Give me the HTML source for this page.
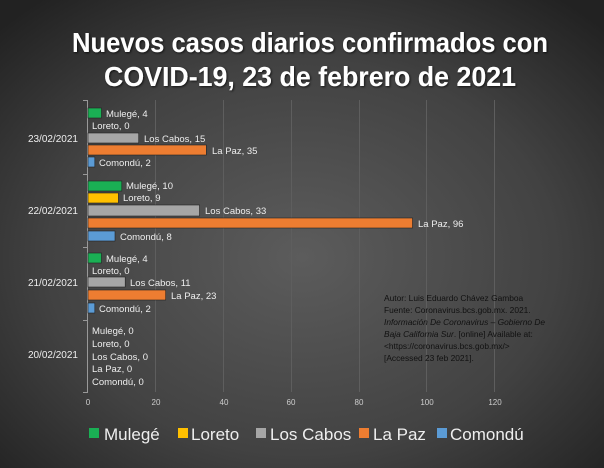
<!DOCTYPE html>
<html><head><meta charset="utf-8"><style>
html,body{margin:0;padding:0;width:604px;height:468px;overflow:hidden;background:#333}
svg{display:block}
text{font-family:"Liberation Sans",sans-serif}
</style></head><body>
<svg width="604" height="468" viewBox="0 0 604 468" xmlns="http://www.w3.org/2000/svg">
<defs>
<radialGradient id="bg" cx="50%" cy="55%" r="70%">
<stop offset="0" stop-color="#5c5c5c"/><stop offset="0.6" stop-color="#424242"/><stop offset="1" stop-color="#222"/>
</radialGradient>
<filter id="sh"><feDropShadow dx="1" dy="1" stdDeviation="1" flood-color="#000" flood-opacity="0.7"/></filter>
</defs>
<rect width="604" height="468" fill="url(#bg)"/>
<g fill="#fff" font-weight="bold" font-size="28" text-anchor="middle" filter="url(#sh)">
<text x="310" y="52" textLength="476" lengthAdjust="spacingAndGlyphs">Nuevos casos diarios confirmados con</text>
<text x="310" y="86" textLength="412" lengthAdjust="spacingAndGlyphs">COVID-19, 23 de febrero de 2021</text>
</g>
<g stroke="#5e5e5e" stroke-width="1">
<line x1="155.5" y1="100" x2="155.5" y2="392"/><line x1="223.5" y1="100" x2="223.5" y2="392"/>
<line x1="291.5" y1="100" x2="291.5" y2="392"/><line x1="359.5" y1="100" x2="359.5" y2="392"/>
<line x1="426.5" y1="100" x2="426.5" y2="392"/><line x1="494.5" y1="100" x2="494.5" y2="392"/>
</g>
<g stroke="#999" stroke-width="1">
<line x1="87.5" y1="100" x2="87.5" y2="392"/>
<line x1="83" y1="100.5" x2="88" y2="100.5"/><line x1="83" y1="174.5" x2="88" y2="174.5"/>
<line x1="83" y1="247.5" x2="88" y2="247.5"/><line x1="83" y1="320.5" x2="88" y2="320.5"/>
<line x1="83" y1="392.5" x2="88" y2="392.5"/>
</g>
<g stroke="#222" stroke-width="0.6">
<rect x="88" y="108" width="13.5" height="10" fill="#1aaf54"/>
<rect x="88" y="133" width="50.7" height="10" fill="#a6a6a6"/>
<rect x="88" y="145" width="118.3" height="10" fill="#ed7d31"/>
<rect x="88" y="157" width="6.8" height="10" fill="#5b9bd5"/>
<rect x="88" y="181" width="33.8" height="10" fill="#1aaf54"/>
<rect x="88" y="193" width="30.4" height="10" fill="#ffc000"/>
<rect x="88" y="205" width="111.5" height="11" fill="#a6a6a6"/>
<rect x="88" y="218" width="324.5" height="10" fill="#ed7d31"/>
<rect x="88" y="231" width="27" height="10" fill="#5b9bd5"/>
<rect x="88" y="253" width="13.5" height="10" fill="#1aaf54"/>
<rect x="88" y="277" width="37.2" height="10" fill="#a6a6a6"/>
<rect x="88" y="290" width="77.7" height="10" fill="#ed7d31"/>
<rect x="88" y="303" width="6.8" height="10" fill="#5b9bd5"/>
</g>
<g fill="#eee" font-size="9.5">
<text x="106" y="117">Mulegé, 4</text>
<text x="92" y="129">Loreto, 0</text>
<text x="144" y="142">Los Cabos, 15</text>
<text x="212" y="154">La Paz, 35</text>
<text x="99" y="166">Comondú, 2</text>
<text x="126" y="189">Mulegé, 10</text>
<text x="123" y="201">Loreto, 9</text>
<text x="205" y="214">Los Cabos, 33</text>
<text x="418" y="227">La Paz, 96</text>
<text x="120" y="240">Comondú, 8</text>
<text x="106" y="262">Mulegé, 4</text>
<text x="92" y="274">Loreto, 0</text>
<text x="130" y="286">Los Cabos, 11</text>
<text x="171" y="299">La Paz, 23</text>
<text x="99" y="312">Comondú, 2</text>
<text x="92" y="334">Mulegé, 0</text>
<text x="92" y="347">Loreto, 0</text>
<text x="92" y="360">Los Cabos, 0</text>
<text x="92" y="372">La Paz, 0</text>
<text x="92" y="385">Comondú, 0</text>
</g>
<g fill="#eee" font-size="10" text-anchor="end">
<text x="78" y="142">23/02/2021</text>
<text x="78" y="214">22/02/2021</text>
<text x="78" y="286">21/02/2021</text>
<text x="78" y="358">20/02/2021</text>
</g>
<g fill="#ccc" font-size="8" text-anchor="middle">
<text x="88" y="405">0</text><text x="156" y="405">20</text><text x="224" y="405">40</text>
<text x="291" y="405">60</text><text x="359" y="405">80</text><text x="427" y="405">100</text><text x="495" y="405">120</text>
</g>
<g fill="#111" font-size="8.4">
<text x="384" y="301">Autor: Luis Eduardo Chávez Gamboa</text>
<text x="384" y="313">Fuente: Coronavirus.bcs.gob.mx. 2021.</text>
<text x="384" y="325" font-style="italic">Información De Coronavirus – Gobierno De</text>
<text x="384" y="337"><tspan font-style="italic">Baja California Sur</tspan>. [online] Available at:</text>
<text x="384" y="349">&lt;https://coronavirus.bcs.gob.mx/&gt;</text>
<text x="384" y="361">[Accessed  23 feb 2021].</text>
</g>
<g font-size="17" fill="#eee">
<rect x="89" y="428" width="10" height="10" fill="#1aaf54"/><text x="104" y="440">Mulegé</text>
<rect x="178" y="428" width="10" height="10" fill="#ffc000"/><text x="191" y="440">Loreto</text>
<rect x="256" y="428" width="10" height="10" fill="#a6a6a6"/><text x="270" y="440">Los Cabos</text>
<rect x="359" y="428" width="10" height="10" fill="#ed7d31"/><text x="373" y="440">La Paz</text>
<rect x="437" y="428" width="10" height="10" fill="#5b9bd5"/><text x="450" y="440">Comondú</text>
</g>
</svg>
</body></html>
